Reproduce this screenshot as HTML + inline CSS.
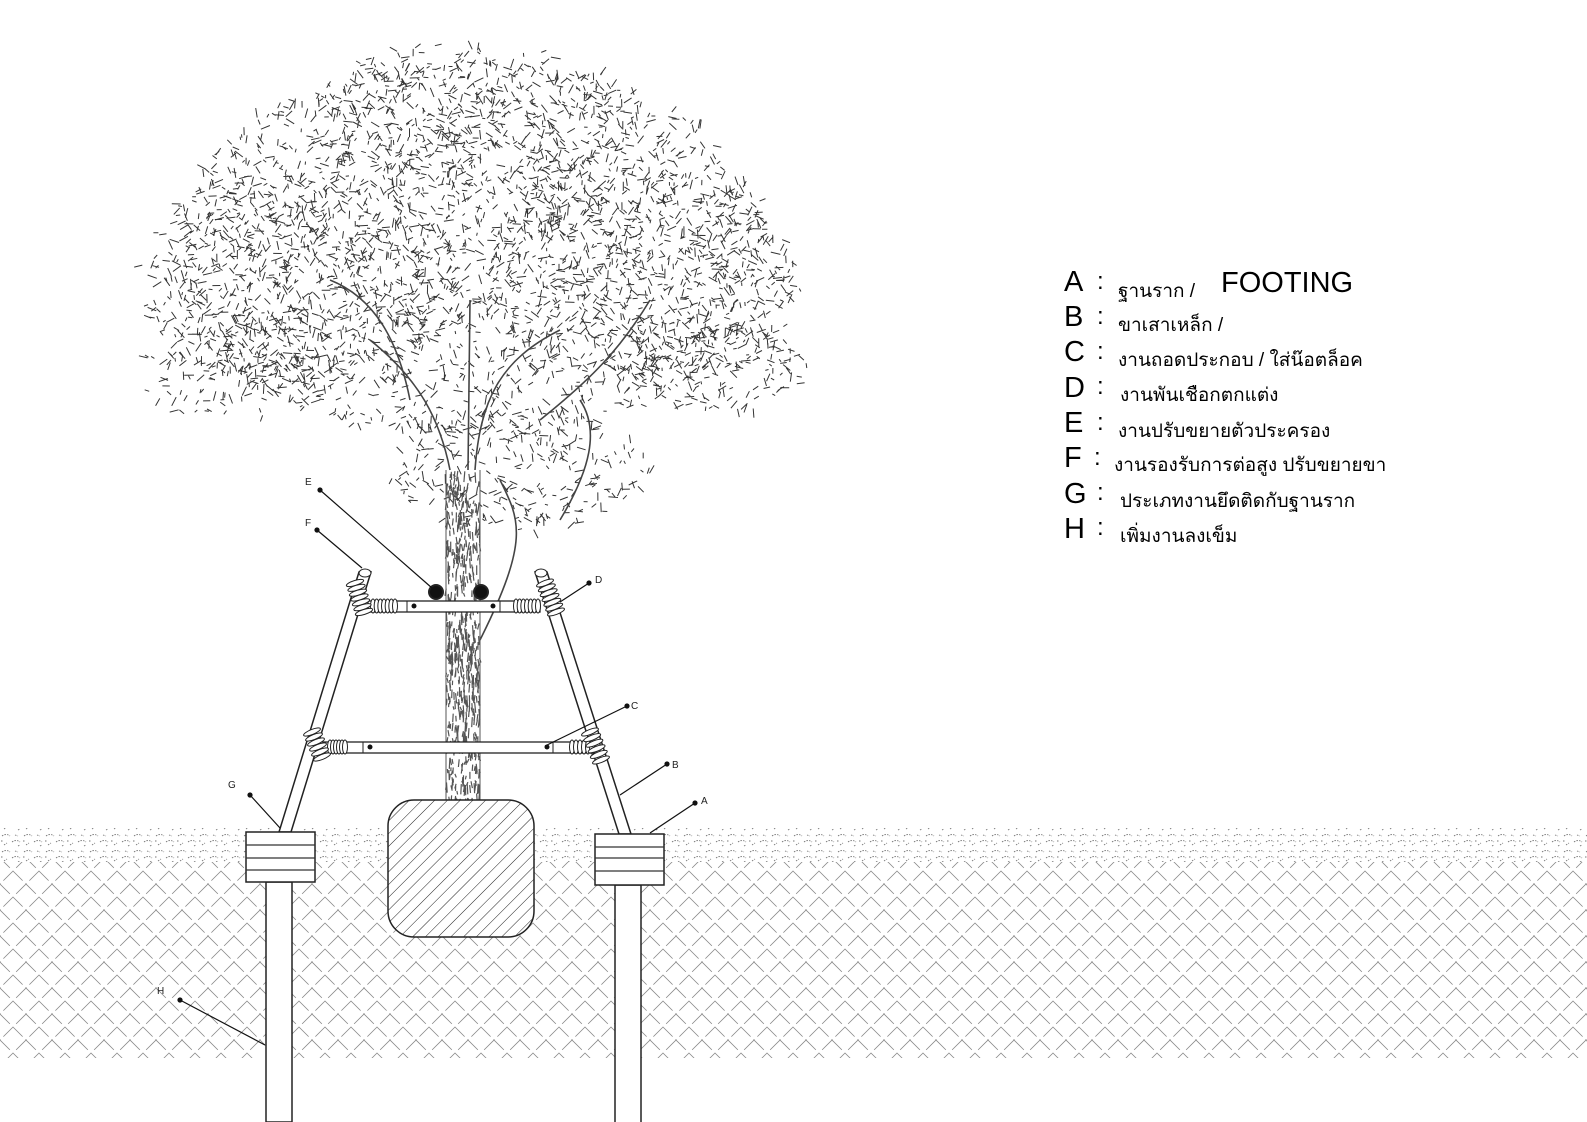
<!DOCTYPE html>
<html><head><meta charset="utf-8"><style>
html,body{margin:0;padding:0;background:#fff;}
svg{display:block}
.lg{font-family:"Liberation Sans","Noto Sans CJK SC",sans-serif;}
</style></head><body>
<svg id="s" width="1587" height="1122" viewBox="0 0 1587 1122" xmlns="http://www.w3.org/2000/svg">
<defs>
<pattern id="xh" width="26" height="26" patternUnits="userSpaceOnUse">
<path d="M0 0L26 26M-13 13L13 39M13 -13L39 13M26 0L0 26M13 -13L-13 13M39 13L13 39" stroke="#888" stroke-width="0.8" stroke-dasharray="14 4"/>
</pattern>
<pattern id="sp" width="22" height="16" patternUnits="userSpaceOnUse">
<path d="M2 4q4-3 8 0M12 10q4-3 8 0M4 13l3-2M15 3l3 1M1 9l2 0M18 14l2-1" stroke="#777" stroke-width="0.9" fill="none" stroke-dasharray="1.5 1.2"/>
</pattern>
<pattern id="dh" width="9" height="9" patternUnits="userSpaceOnUse" patternTransform="rotate(45)">
<line x1="0" y1="0" x2="0" y2="9" stroke="#222" stroke-width="1"/>
</pattern>
</defs>
<rect x="0" y="862" width="1587" height="196" fill="url(#xh)"/>
<rect x="0" y="828" width="1587" height="34" fill="url(#sp)"/>
<g id="tree"></g>
<g id="trunk"></g>
<!-- poles below footing -->
<rect x="266" y="882" width="26" height="240" fill="#fff" stroke="#222" stroke-width="1.5"/>
<rect x="615" y="885" width="26" height="240" fill="#fff" stroke="#222" stroke-width="1.5"/>
<!-- legs -->
<path d="M359 572L371 572L291 832L279 832Z" fill="#fff" stroke="#222" stroke-width="1.5"/>
<path d="M535 572L547 572L631 834L619 834Z" fill="#fff" stroke="#222" stroke-width="1.5"/>
<ellipse cx="365" cy="573" rx="6" ry="4" fill="#fff" stroke="#222"/>
<ellipse cx="541" cy="573" rx="6" ry="4" fill="#fff" stroke="#222"/>
<!-- bars -->
<rect x="368" y="601" width="172" height="11" fill="#fff" stroke="#222" stroke-width="1.3"/>
<rect x="320" y="742" width="280" height="11" fill="#fff" stroke="#222" stroke-width="1.3"/>
<g stroke="#222" stroke-width="1" fill="none">
<line x1="407" y1="601" x2="407" y2="612"/><line x1="500" y1="601" x2="500" y2="612"/>
<line x1="363" y1="742" x2="363" y2="753"/><line x1="553" y1="742" x2="553" y2="753"/>
</g>
<g id="coils" stroke="#222" stroke-width="1" fill="#fff"></g>
<g fill="#111"><circle cx="414" cy="606" r="2.5"/><circle cx="493" cy="606" r="2.5"/><circle cx="370" cy="747" r="2.5"/><circle cx="547" cy="747" r="2.5"/></g>
<circle cx="436" cy="592" r="7" fill="#111" stroke="#222" stroke-width="2"/>
<circle cx="481" cy="592" r="7" fill="#111" stroke="#222" stroke-width="2"/>
<!-- footings -->
<g stroke="#222" stroke-width="1.5" fill="#fff">
<rect x="246" y="832" width="69" height="50"/>
<rect x="595" y="834" width="69" height="51"/>
</g>
<g stroke="#333" stroke-width="1.2">
<line x1="246" y1="845" x2="315" y2="845"/><line x1="246" y1="858" x2="315" y2="858"/><line x1="246" y1="870" x2="315" y2="870"/>
<line x1="595" y1="847" x2="664" y2="847"/><line x1="595" y1="858" x2="664" y2="858"/><line x1="595" y1="871" x2="664" y2="871"/>
</g>
<!-- root ball -->
<rect x="388" y="800" width="146" height="137" rx="26" fill="#fff"/>
<rect x="388" y="800" width="146" height="137" rx="26" fill="url(#dh)" stroke="#222" stroke-width="1.5"/>
<!-- leaders -->
<g stroke="#111" stroke-width="1.2" fill="#111" font-family="Liberation Sans" font-size="10">
<line x1="320" y1="490" x2="432" y2="588"/><circle cx="320" cy="490" r="2"/>
<line x1="317" y1="530" x2="362" y2="568"/><circle cx="317" cy="530" r="2"/>
<line x1="589" y1="583" x2="560" y2="602"/><circle cx="589" cy="583" r="2"/>
<line x1="627" y1="706" x2="545" y2="746"/><circle cx="627" cy="706" r="2"/>
<line x1="667" y1="764" x2="620" y2="795"/><circle cx="667" cy="764" r="2"/>
<line x1="695" y1="803" x2="650" y2="833"/><circle cx="695" cy="803" r="2"/>
<line x1="250" y1="795" x2="280" y2="828"/><circle cx="250" cy="795" r="2"/>
<line x1="180" y1="1000" x2="265" y2="1045"/><circle cx="180" cy="1000" r="2"/>
<g stroke="none" fill="#222">
<text x="305" y="485">E</text><text x="305" y="526">F</text><text x="595" y="583">D</text>
<text x="631" y="709">C</text><text x="672" y="768">B</text><text x="701" y="804">A</text>
<text x="228" y="788">G</text><text x="157" y="994">H</text>
</g>
</g>
<!-- legend -->
<g class="lg" fill="#000">
<g font-size="29">
<text x="1064" y="291">A</text><text x="1064" y="326">B</text><text x="1064" y="361">C</text><text x="1064" y="397">D</text>
<text x="1064" y="432">E</text><text x="1064" y="467">F</text><text x="1064" y="503">G</text><text x="1064" y="538">H</text>
</g>
<g font-size="24">
<text x="1097" y="289">:</text><text x="1097" y="324">:</text><text x="1097" y="359">:</text><text x="1097" y="394">:</text>
<text x="1097" y="430">:</text><text x="1094" y="465">:</text><text x="1097" y="500">:</text><text x="1097" y="535">:</text>
</g>
<g font-size="19">
<text x="1118" y="297">ฐานราก /</text>
<text x="1118" y="331">ขาเสาเหล็ก /</text>
<text x="1118" y="366">งานถอดประกอบ / ใส่น๊อตล็อค</text>
<text x="1120" y="401">งานพันเชือกตกแต่ง</text>
<text x="1118" y="437">งานปรับขยายตัวประครอง</text>
<text x="1114" y="471">งานรองรับการต่อสูง ปรับขยายขา</text>
<text x="1120" y="507">ประเภทงานยึดติดกับฐานราก</text>
<text x="1120" y="542">เพิ่มงานลงเข็ม</text>
</g>
<text x="1221" y="292" font-size="29">FOOTING</text>
</g>
</svg>
<script>
(function(){
var s=12345;function r(){s=(s*16807)%2147483647;return s/2147483647;}
var NS="http://www.w3.org/2000/svg",g=document.getElementById('tree');
var blobs=[[470,250,300,190],[300,280,160,110],[640,280,160,110],[470,120,160,80],[230,370,90,50],[720,370,90,45],[520,470,130,60]];
var wsum=0;blobs.forEach(function(b){b.push(b[2]*b[3]);wsum+=b[4];});
function pick(){var t=r()*wsum;for(var i=0;i<blobs.length;i++){t-=blobs[i][4];if(t<=0)return blobs[i];}return blobs[0];}
var d="";
for(var i=0;i<4200;i++){
 var b=pick();
 var a=r()*Math.PI*2,rr=Math.sqrt(r());
 var x=b[0]+Math.cos(a)*b[2]*rr,y=b[1]+Math.sin(a)*b[3]*rr;
 if(y<45||y>560||x<138||x>812)continue;
 var l=3+r()*7,t=r()*Math.PI*2;
 d+="M"+x.toFixed(1)+" "+y.toFixed(1)+"l"+(Math.cos(t)*l).toFixed(1)+" "+(Math.sin(t)*l).toFixed(1);
}
var p=document.createElementNS(NS,'path');p.setAttribute('d',d);p.setAttribute('stroke','#333');p.setAttribute('stroke-width','1');p.setAttribute('fill','none');g.appendChild(p);
var br=document.createElementNS(NS,'path');
br.setAttribute('d','M450 470C440 420 420 380 370 340M475 470C480 400 500 360 560 330M470 300L468 470M410 400C400 350 380 300 330 280M540 420C590 380 620 350 650 300M500 480C520 520 530 540 480 640M580 400C600 430 590 470 560 520');
br.setAttribute('stroke','#444');br.setAttribute('stroke-width','1.6');br.setAttribute('fill','none');g.appendChild(br);
// trunk texture
var tg=document.getElementById('trunk'),td="";
for(var k=0;k<600;k++){var x=446+r()*34,y=470+r()*330;td+="M"+x.toFixed(1)+" "+y.toFixed(1)+"l"+(r()*3-1.5).toFixed(1)+" "+(3+r()*8).toFixed(1);}
tg.innerHTML='<path d="M446 470L446 800M480 470L480 800" stroke="#555" stroke-width="1"/><path d="'+td+'" stroke="#555" stroke-width="1.2" fill="none"/>';
var c=document.getElementById('coils'),h="";
function coil(x1,y1,x2,y2,n,w){var dx=(x2-x1)/n,dy=(y2-y1)/n,L=Math.hypot(x2-x1,y2-y1),nx=-(y2-y1)/L*w,ny=(x2-x1)/L*w;
 for(var k=0;k<=n;k++){var x=x1+dx*k,y=y1+dy*k;h+='<ellipse cx="'+x+'" cy="'+y+'" rx="2.5" ry="'+w+'" transform="rotate('+(Math.atan2(ny,nx)*180/Math.PI-90)+' '+x+' '+y+')"/>';}}
coil(373,606,395,606,6,7);coil(516,606,538,606,6,7);
coil(330,747,345,747,5,7);coil(572,747,592,747,5,7);
coil(355,583,364,612,6,9);coil(545,583,556,612,6,9);
coil(312,732,322,757,5,9);coil(590,732,601,760,5,9);
c.innerHTML=h;
})();
</script>
</body></html>
